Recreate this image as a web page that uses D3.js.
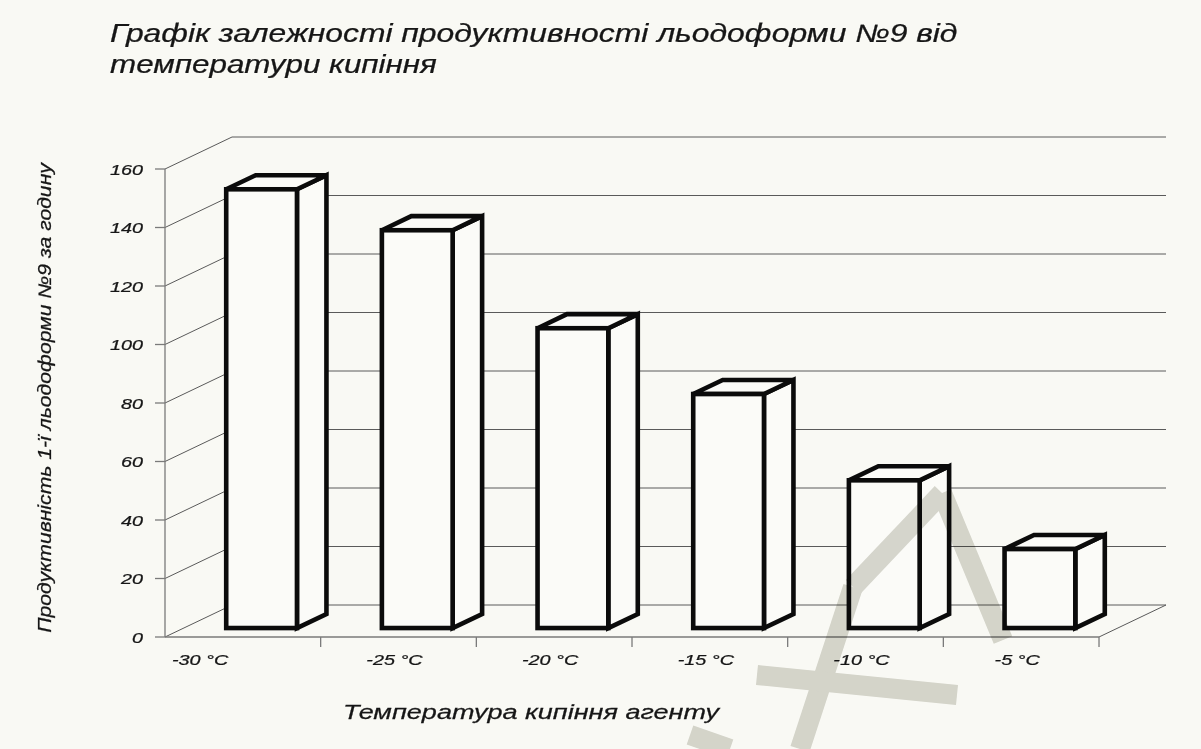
<!DOCTYPE html>
<html>
<head>
<meta charset="utf-8">
<script src="https://cdn.jsdelivr.net/npm/d3@7"></script>
<style>
  html, body { margin: 0; padding: 0; background: #f9f9f4; }
  svg { display: block; }
  text { font-family: "Liberation Sans", Arial, sans-serif; font-style: italic; fill: #161616; }
</style>
</head>
<body>
<svg id="chart" width="1201" height="749"></svg>
<script>
// ---- data ----
const categories = ["-30 °C", "-25 °C", "-20 °C", "-15 °C", "-10 °C", "-5 °C"];
const values = [150, 136, 102.5, 80, 50.5, 27];
const yTicks = [0, 20, 40, 60, 80, 100, 120, 140, 160];
const titleLines = ["Графік залежності продуктивності  льодоформи №9 від", "температури кипіння"];
const xTitle = "Температура кипіння агенту";
const yTitle = "Продуктивність 1-ї льодоформи №9 за годину";

// ---- layout ----
const W = 1201, H = 749;
const left = 165, right = 1099, floorY = 637, topY = 169;
const depth = { dx: 67, dy: -32 };     // 3-D depth vector of the plot
const barDepth = [0.28, 0.72];          // bar position inside depth
const SX = 1.32;                        // horizontal stretch of glyphs

const svg = d3.select("#chart");
svg.append("rect").attr("width", W).attr("height", H).attr("fill", "#f9f9f4");

const x = d3.scaleBand().domain(categories).range([left, right])
  .paddingInner(0.5455).paddingOuter(0.2727);
const y = d3.scaleLinear().domain([0, 160]).range([floorY, topY]);
const step = x.step();

const grid = svg.append("g").attr("stroke", "#5a5a5a").attr("stroke-width", 1).attr("fill", "none");
yTicks.forEach(v => {
  const yy = y(v);
  grid.append("line")
    .attr("x1", left + depth.dx).attr("y1", yy + depth.dy)
    .attr("x2", right + depth.dx).attr("y2", yy + depth.dy);
  grid.append("line")
    .attr("x1", left).attr("y1", yy)
    .attr("x2", left + depth.dx).attr("y2", yy + depth.dy);
});
grid.append("line")
  .attr("x1", right).attr("y1", floorY)
  .attr("x2", right + depth.dx).attr("y2", floorY + depth.dy);

// axes
const axes = svg.append("g").attr("stroke", "#7a7a7a").attr("stroke-width", 1.3).attr("fill", "none");
axes.append("line").attr("x1", left).attr("y1", y(160)).attr("x2", left).attr("y2", floorY);
axes.append("line").attr("x1", left).attr("y1", floorY).attr("x2", right).attr("y2", floorY);
yTicks.forEach(v => {
  axes.append("line").attr("x1", left - 10).attr("x2", left).attr("y1", y(v)).attr("y2", y(v));
});
d3.range(1, categories.length + 1).forEach(i => {
  const xx = left + i * step;
  axes.append("line").attr("x1", xx).attr("x2", xx).attr("y1", floorY).attr("y2", floorY + 10);
});

// bars
const bw = x.bandwidth();
const off0 = { dx: depth.dx * barDepth[0], dy: depth.dy * barDepth[0] };
const bd = { dx: depth.dx * (barDepth[1] - barDepth[0]), dy: depth.dy * (barDepth[1] - barDepth[0]) };
const bars = svg.append("g")
  .attr("stroke", "#0b0b0b").attr("stroke-width", 4.6)
  .attr("stroke-linejoin", "miter").attr("fill", "#fbfbf8");

categories.forEach((c, i) => {
  const v = values[i];
  const xl = x(c) + off0.dx, xr = xl + bw;
  const yt = y(v) + off0.dy, yb = y(0) + off0.dy;
  const g = bars.append("g");
  g.append("path").attr("d",
    `M${xr},${yt} L${xr + bd.dx},${yt + bd.dy} L${xr + bd.dx},${yb + bd.dy} L${xr},${yb} Z`);
  g.append("path").attr("d",
    `M${xl},${yt} L${xl + bd.dx},${yt + bd.dy} L${xr + bd.dx},${yt + bd.dy} L${xr},${yt} Z`);
  g.append("rect").attr("x", xl).attr("y", yt).attr("width", bw).attr("height", yb - yt);
});

// helper: text whose glyphs are stretched horizontally (as in the source picture)
function stretchedText(parent, str, px, py, size, anchor, targetWidth, rotate) {
  const t = parent.append("text")
    .attr("x", 0).attr("y", 0)
    .attr("font-size", size)
    .attr("text-anchor", anchor)
    .attr("stroke", "#161616").attr("stroke-width", 0.25)
    .text(str);
  const natural = t.node().getComputedTextLength();
  const sx = targetWidth ? targetWidth / natural : SX;
  t.attr("transform", `translate(${px},${py})${rotate ? ` rotate(${rotate})` : ""} scale(${sx},1)`);
  return t;
}

// y tick labels
const labels = svg.append("g");
yTicks.forEach(v => stretchedText(labels, String(v), 143, y(v) + 5.5, 15, "end"));

// x tick labels
categories.forEach((c, i) => {
  if (i === 0) {
    stretchedText(labels, c, x(c) - x.paddingOuter() * step + 7, 664.5, 15, "start");
  } else {
    stretchedText(labels, c, x(c) + bw / 2 - 4, 664.5, 15, "middle");
  }
});

// titles
stretchedText(svg, titleLines[0], 110, 42, 25, "start", 848);
stretchedText(svg, titleLines[1], 110, 73, 25, "start", 327);
stretchedText(svg, xTitle, 343, 719, 20.5, "start", 376);
stretchedText(svg, yTitle, 51, 398, 18, "middle", 470, -90);

// faint watermark strokes (decoration present in the source picture)
const wm = svg.append("g")
  .attr("stroke", "#d9d9d2").attr("stroke-width", 20).attr("fill", "none")
  .style("mix-blend-mode", "multiply");
[
  [[942, 493], [1003, 640]],
  [[942, 493], [853, 587]],
  [[853, 587], [800, 749]],
  [[757, 675], [957, 695]],
  [[690, 735], [730, 749]]
].forEach(seg => wm.append("path").attr("d", d3.line()(seg)));
</script>
</body>
</html>
